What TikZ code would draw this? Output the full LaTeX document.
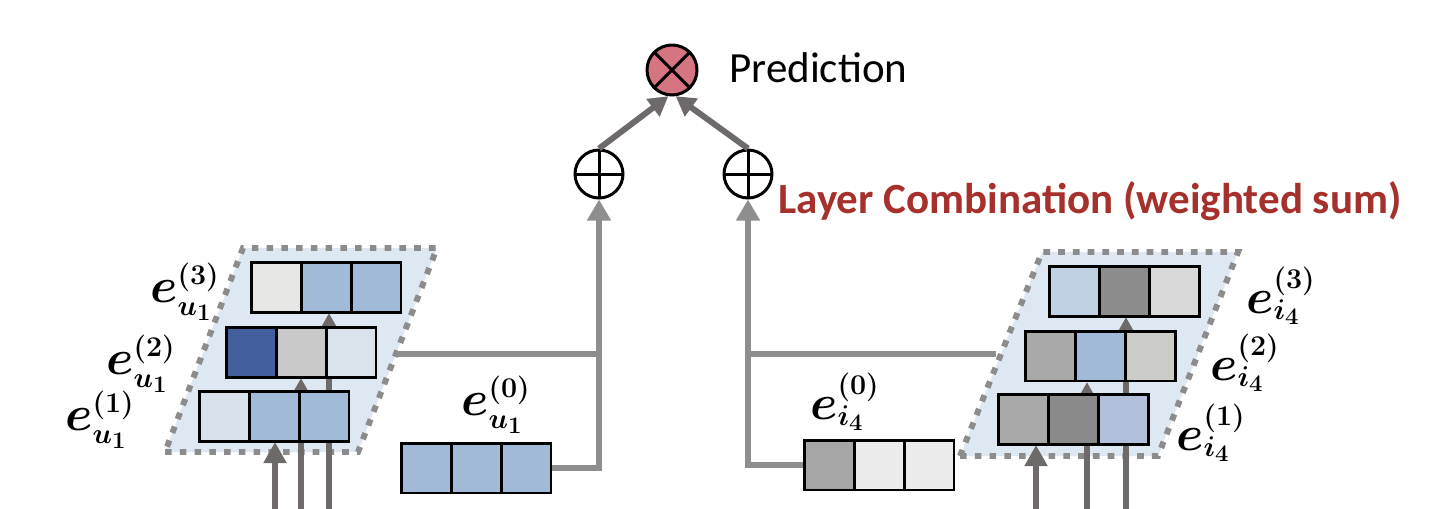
\documentclass[tikz,border=0pt]{standalone}
\usepackage{fontspec}
\usepackage{bm}
\usetikzlibrary{arrows.meta,calc}
\newfontfamily\carlito{Carlito}
\DeclareMathSizes{24.88}{24.88}{14.4}{12}
\newcommand\elab[2]{\scalebox{1.13}{$\bm{e}^{\bm{(#1)}}_{\bm{#2}}$}}
\definecolor{paraFill}{HTML}{DEE8F2}
\definecolor{dotGray}{HTML}{8C8C8C}
\definecolor{connGray}{HTML}{8E8E8E}
\definecolor{arrDark}{HTML}{6E6A69}
\definecolor{predPink}{HTML}{D67582}
\definecolor{combRed}{HTML}{A5302C}
\definecolor{cBlue}{HTML}{A1BAD8}
\definecolor{cDark}{HTML}{445F9D}
\definecolor{cPaleA}{HTML}{E6E6E4}
\definecolor{cPaleB}{HTML}{DAE2EC}
\definecolor{cPaleC}{HTML}{D9E1EC}
\definecolor{cGrayA}{HTML}{C8C8C8}
\definecolor{cLtBlue}{HTML}{BFD1E2}
\definecolor{cGrayB}{HTML}{8C8C8C}
\definecolor{cGrayC}{HTML}{D9D9D9}
\definecolor{cGrayD}{HTML}{A9A9A9}
\definecolor{cGrayE}{HTML}{CBCBC7}
\definecolor{cGrayF}{HTML}{8A8A8A}
\definecolor{cLav}{HTML}{B1BFDA}
\definecolor{cGrayG}{HTML}{A6A6A6}
\definecolor{cGrayH}{HTML}{EBEBEB}
\newcommand\cellrow[6]{%
  \node[cellbox,fill=#4] (#1a) at (#2,#3) {};
  \node[cellbox,fill=#5] (#1b) at (#2+50,#3) {};
  \node[cellbox,fill=#6] (#1c) at (#2+100,#3) {};
}
\begin{document}
\begin{tikzpicture}[x=0.02cm,y=-0.02cm,
  cellbox/.style={draw=black,line width=1.7pt,minimum width=1cm,minimum height=1cm,inner sep=0pt},
  para/.style={fill=paraFill,draw=dotGray,line width=3.4pt,dash pattern=on 3.8pt off 4.6pt},
  botarr/.style={draw=arrDark,line width=3.8pt,-{Triangle[width=12.5pt,length=12pt]}},
  uparr/.style={draw=arrDark,line width=3.4pt,-{Triangle[width=12pt,length=11pt]}},
  conn/.style={draw=connGray,line width=3pt},
  connarr/.style={conn,-{Triangle[width=13pt,length=12pt]}},
  opcirc/.style={circle,draw=black,line width=1.7pt,fill=white,minimum size=0.96cm,inner sep=0pt},
  lab/.style={inner sep=0pt,font=\fontsize{24.88}{30}\selectfont},
  ]
\useasboundingbox (0,0) rectangle (1454,508);

% parallelograms
\draw[para] (165,452) -- (358,452) -- (437,248) -- (243,248) -- cycle;
\draw[para] (960,456) -- (1158,456) -- (1238,252) -- (1042,252) -- cycle;

% named free ends
\coordinate (pl) at (397,354);
\coordinate (pr) at (996,354);
\coordinate (lb1) at (275,510);
\coordinate (lb2) at (301,510);
\coordinate (lb3) at (329,510);
\coordinate (rb1) at (1036,510);
\coordinate (rb2) at (1087,510);
\coordinate (rb3) at (1126,510);

% operators
\node[opcirc] (opL) at (599,174) {};
\node[opcirc] (opR) at (748,174) {};
\node[opcirc,fill=predPink,minimum size=1cm] (ot) at (672,70) {};
\draw[line width=1.7pt] (opL.north) -- (opL.south) (opL.west) -- (opL.east);
\draw[line width=1.7pt] (opR.north) -- (opR.south) (opR.west) -- (opR.east);
\draw[line width=1.7pt] (ot.45) -- (ot.225) (ot.135) -- (ot.315);

% arrows to prediction
\draw[uparr] (opL.north) -- (ot.262);
\draw[uparr] (opR.north) -- (ot.278);

% bottom arrows (under boxes)
\draw[botarr] (lb1) -- (275,442);
\draw[botarr] (lb2) -- (301,378);
\draw[botarr] (lb3) -- (329,313);
\draw[botarr] (rb1) -- (1036,445);
\draw[botarr] (rb2) -- (1087,382);
\draw[botarr] (rb3) -- (1126,317);

% left boxes
\cellrow{lt}{276}{287.5}{cPaleA}{cBlue}{cBlue}
\cellrow{lm}{251}{352.5}{cDark}{cGrayA}{cPaleB}
\cellrow{lw}{224}{416.5}{cPaleC}{cBlue}{cBlue}
\cellrow{lz}{426}{468}{cBlue}{cBlue}{cBlue}
% right boxes
\cellrow{rt}{1074}{291.5}{cLtBlue}{cGrayB}{cGrayC}
\cellrow{rm}{1050}{356}{cGrayD}{cBlue}{cGrayE}
\cellrow{rw}{1023}{419.5}{cGrayD}{cGrayF}{cLav}
\cellrow{rz}{829}{465}{cGrayG}{cGrayH}{cGrayH}

% connectors
\draw[conn] (pl) -- (pl -| opL);
\draw[connarr] (lzc.east) -| (opL.south);
\draw[conn] (pr) -- (pr -| opR);
\draw[connarr] (rza.west) -| (opR.south);

% labels
\node[lab] (lu3) at (185,292) {\elab{3}{u_1}};
\node[lab] (lu2) at (141,364) {\elab{2}{u_1}};
\node[lab] (lu1) at (100,420) {\elab{1}{u_1}};
\node[lab] (lu0) at (496,405) {\elab{0}{u_1}};
\node[lab] (li3) at (1281,296) {\elab{3}{i_4}};
\node[lab] (li2) at (1245,363) {\elab{2}{i_4}};
\node[lab] (li1) at (1211,433) {\elab{1}{i_4}};
\node[lab] (li0) at (845,402) {\elab{0}{i_4}};

\node[anchor=west,inner sep=0pt,font=\carlito\fontsize{24.5}{29}\selectfont] (pred) at (729,68) {Prediction};
\node[anchor=west,inner sep=0pt,text=combRed,font=\carlito\bfseries\fontsize{24.5}{29}\selectfont] (comb) at (778,201) {Layer Combination (weighted sum)};
\end{tikzpicture}
\end{document}
